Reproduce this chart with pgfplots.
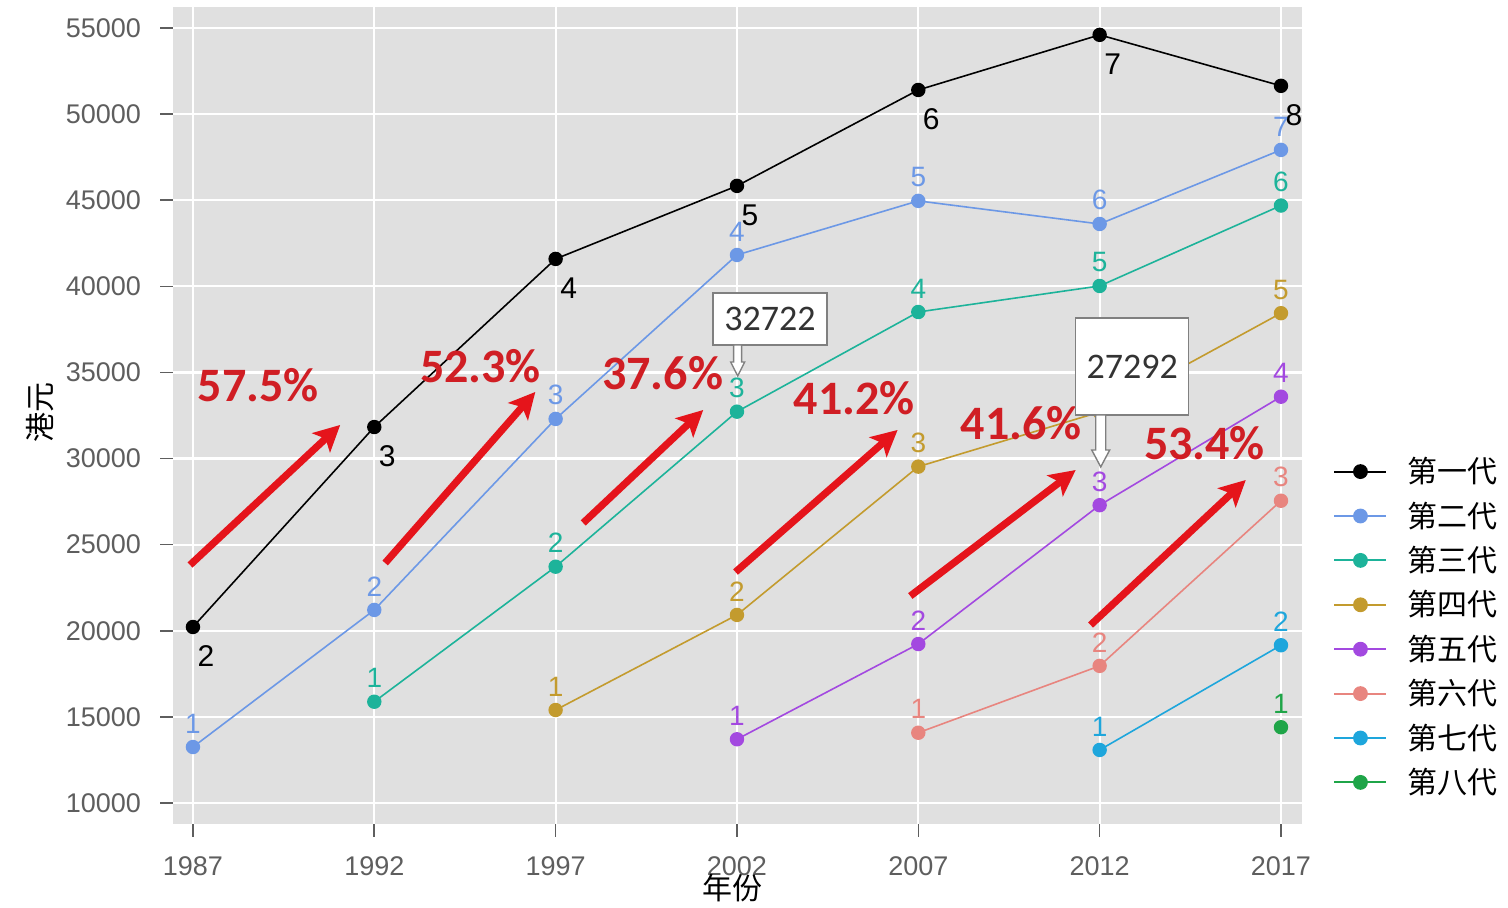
\documentclass[border=0pt]{standalone}
\usepackage{pgfplots}
\pgfplotsset{compat=1.18}
\usepackage{fontspec}
\setmainfont{Liberation Sans}
\newfontfamily\cjk{Noto Sans CJK SC}
\newfontfamily\carlito{Carlito}
\usetikzlibrary{arrows.meta}

\definecolor{panelbg}{HTML}{E0E0E0}
\definecolor{tickgray}{HTML}{5E5E5E}
\definecolor{cA}{HTML}{000000}
\definecolor{cB}{HTML}{6C98E6}
\definecolor{cC}{HTML}{1DB39A}
\definecolor{cD}{HTML}{C39B2E}
\definecolor{cE}{HTML}{A349E0}
\definecolor{cF}{HTML}{E8857F}
\definecolor{cG}{HTML}{1EA6DC}
\definecolor{cH}{HTML}{1FA548}
\definecolor{arrred}{HTML}{E5141B}
\definecolor{txtred}{HTML}{D01E24}

\pgfplotsset{
  gen/.style={color=#1, line width=0.8pt, mark=*, mark size=3.2pt,
    mark options={fill=#1, draw=#1, solid},
    nodes near coords, point meta=explicit symbolic,
    every node near coord/.style={font=\fontsize{14}{14}\selectfont, text=#1,
      anchor=south, yshift=4.5pt, inner sep=2pt}},
}

\begin{document}
\begin{tikzpicture}
\begin{axis}[
  set layers,
  at={(0,0)}, anchor=south west,
  scale only axis, width=564.5pt, height=408.5pt,
  xmin=1986.45, xmax=2017.58, ymin=8781, ymax=56219,
  xtick={1987,1992,...,2017}, ytick={10000,15000,...,55000},
  scaled y ticks=false,
  /pgf/number format/assume math mode=true,
  /pgf/number format/1000 sep={},
  axis background/.style={fill=panelbg},
  axis line style={draw=none},
  grid=major, major grid style={white, line width=1.1pt},
  tick align=outside, tick pos=left, major tick length=6.5pt,
  tick style={color=tickgray, line width=0.8pt},
  tick label style={font=\fontsize{13.5}{13.5}\selectfont, text=tickgray},
  xticklabel style={yshift=-6.5pt},
  yticklabel style={xshift=-6pt},
  clip=false,
  xlabel={\cjk 年份}, ylabel={\cjk 港元},
  label style={font=\fontsize{15}{15}\selectfont},
  xlabel style={at={(axis description cs:0.496,-0.0783)}, anchor=center},
  ylabel style={at={(axis description cs:-0.118,0.504)}, anchor=center},
  legend cell align=left,
  legend image code/.code={\draw[mark repeat=2, mark phase=2, line width=1pt] plot coordinates {(0pt,0pt) (13pt,0pt) (26pt,0pt)};},
  legend style={draw=none, fill=none, at={(axis description cs:1.0275,0.459)}, anchor=north west,
    inner sep=0pt, row sep=0pt, font=\cjk\fontsize{15}{15}\selectfont,
    nodes={inner sep=0pt, minimum height=22.2pt},
    /tikz/every odd column/.append style={column sep=10pt}},
]
\addplot[gen=cA, every node near coord/.style={font=\fontsize{15}{15}\selectfont, text=black, anchor=center, xshift=6.5pt, yshift=-14.5pt}] coordinates {
 (1987,20220) [2] (1992,31830) [3] (1997,41590) [4] (2002,45830) [5]
 (2007,51400) [6] (2012,54600) [7] (2017,51640) [8]
};
\addplot[gen=cB] coordinates {
 (1987,13250) [1] (1992,21210) [2] (1997,32300) [3] (2002,41820) [4]
 (2007,44960) [5] (2012,43620) [6] (2017,47920) [7]
};
\addplot[gen=cC] coordinates {
 (1992,15880) [1] (1997,23720) [2] (2002,32722) [3] (2007,38510) [4]
 (2012,40020) [5] (2017,44690) [6]
};
\addplot[gen=cD] coordinates {
 (1997,15400) [1] (2002,20920) [2] (2007,29530) [3] (2012,32700) [4]
 (2017,38440) [5]
};
\addplot[gen=cE] coordinates {
 (2002,13700) [1] (2007,19230) [2] (2012,27292) [3] (2017,33590) [4]
};
\addplot[gen=cF] coordinates {
 (2007,14080) [1] (2012,17960) [2] (2017,27550) [3]
};
\addplot[gen=cG] coordinates {
 (2012,13080) [1] (2017,19160) [2]
};
\addplot[gen=cH] coordinates {
 (2017,14400) [1]
};
\legend{第一代,第二代,第三代,第四代,第五代,第六代,第七代,第八代}

\begin{pgfonlayer}{axis foreground}
% growth arrows
\begin{scope}[arrred, line width=3.6pt, -{Stealth[length=13pt, width=13pt, inset=3pt]}]
\draw (axis cs:1986.92,23820) -- (axis cs:1991.06,31950);
\draw (axis cs:1992.30,23935) -- (axis cs:1996.44,33865);
\draw (axis cs:1997.76,26260) -- (axis cs:2001.07,32820);
\draw (axis cs:2001.96,23410) -- (axis cs:2006.43,31660);
\draw (axis cs:2006.78,22020) -- (axis cs:2011.34,29335);
\draw (axis cs:2011.75,20335) -- (axis cs:2016.03,28755);
\end{scope}
\begin{scope}[every node/.style={text=txtred, font=\carlito\bfseries\fontsize{24}{24}\selectfont}]
\node at (axis cs:1988.80,34270) {57.5\%};
\node at (axis cs:1994.93,35375) {52.3\%};
\node at (axis cs:1999.95,34970) {37.6\%};
\node at (axis cs:2005.23,33515) {41.2\%};
\node at (axis cs:2009.84,32065) {41.6\%};
\node at (axis cs:2014.89,30900) {53.4\%};
\end{scope}

% callouts
\node[draw=gray, fill=white, line width=0.7pt, minimum width=57pt, minimum height=26pt,
  font=\carlito\fontsize{18}{18}\selectfont, text=black!80] at (axis cs:2002.91,38104) {32722};
\draw[gray, fill=white, line width=0.7pt] (axis cs:2002.02,34794) -- ++(-3.5pt,7pt) -- ++(1.5pt,0pt) -- ++(0pt,8.5pt)
  -- ++(4pt,0pt) -- ++(0pt,-8.5pt) -- ++(1.5pt,0pt) -- cycle;
\node[draw=gray, fill=white, line width=0.7pt, minimum width=56.5pt, minimum height=48.5pt,
  font=\carlito\fontsize{18}{18}\selectfont, text=black!80] at (axis cs:2012.90,35347) {27292};
\draw[gray, fill=white, line width=0.7pt] (axis cs:2012.03,29511) -- ++(-4.5pt,8.5pt) -- ++(2pt,0pt) -- ++(0pt,17.5pt)
  -- ++(5pt,0pt) -- ++(0pt,-17.5pt) -- ++(2pt,0pt) -- cycle;
\end{pgfonlayer}
\end{axis}
\pgfresetboundingbox
\path[use as bounding box] (-86.5pt,-42pt) rectangle (667.5pt,412pt);
\end{tikzpicture}
\end{document}
